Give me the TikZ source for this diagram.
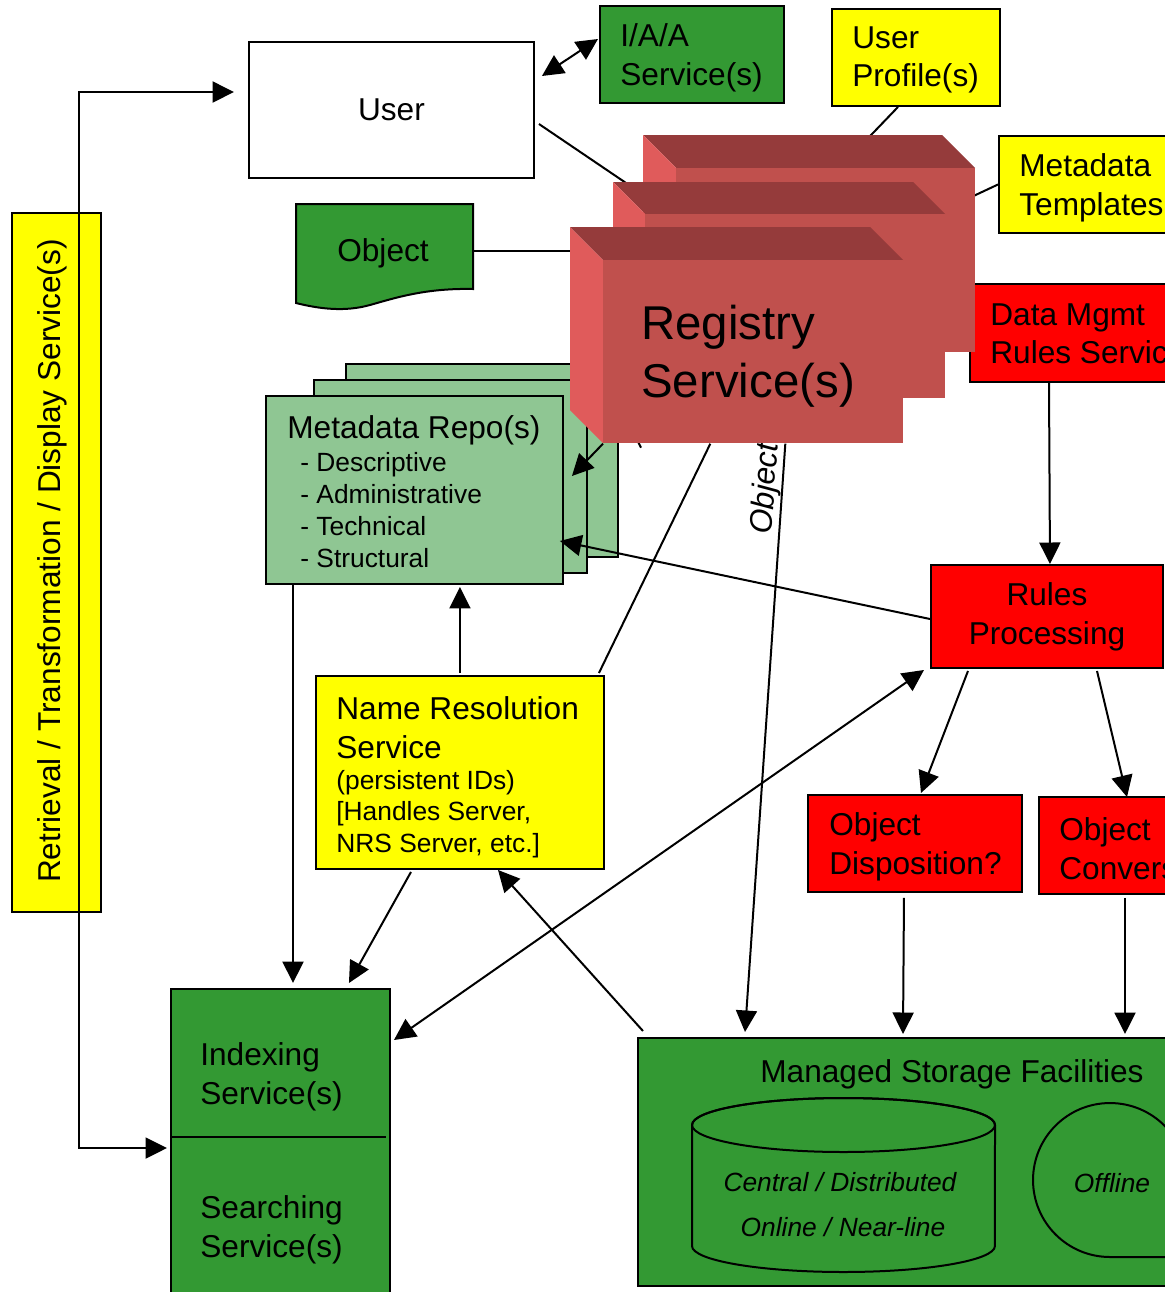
\documentclass[tikz,border=0pt]{standalone}
\usepackage{fontspec}
\setmainfont{Liberation Sans}
\usetikzlibrary{arrows.meta}
\pgfdeclarelayer{back}
\pgfsetlayers{back,main}
\definecolor{dgreen}{HTML}{339933}
\definecolor{lgreen}{HTML}{8FC693}
\definecolor{ryellow}{HTML}{FFFF00}
\definecolor{rred}{HTML}{FF0000}
\definecolor{regfront}{HTML}{C0504D}
\definecolor{regtop}{HTML}{953B3B}
\definecolor{regside}{HTML}{E05B5B}
\begin{document}
\begin{tikzpicture}[x=0.02cm,y=-0.02cm,
  >={Triangle[length=4.3mm,width=4.2mm]},
  panel/.style={draw, line width=0.4mm, rectangle, inner sep=0pt, anchor=north west},
  regface/.style={fill=regfront, rectangle, inner sep=0pt, anchor=north west},
  caption/.style={anchor=west, align=left, inner sep=0pt, font=\fontsize{18}{22}\selectfont},
  smallcap/.style={anchor=west, align=left, inner sep=0pt, font=\fontsize{15}{18.1}\selectfont},
  wire/.style={line width=0.4mm},
  wirearrow/.style={wire, ->},
  wirebi/.style={wire, <->}]
\useasboundingbox (0,0) rectangle (1165,1292);

% ---------- boxes lying underneath the registry ----------
\begin{pgfonlayer}{back}
  \node[panel, fill=lgreen, minimum width=54.4mm, minimum height=38.6mm] (mrepo3) at (345,363) {};
  \node[panel, fill=lgreen, minimum width=54.6mm, minimum height=38.6mm] (mrepo2) at (313,379) {};
  \node[panel, fill=lgreen, minimum width=59.4mm, minimum height=37.6mm] (mrepo) at (265,395) {};
  \node[caption] (mrepo-t) at (287,430) {Metadata Repo(s)};
  \node[smallcap] (mrepo-l) at (300,510) {- Descriptive\\- Administrative\\- Technical\\- Structural};
  \node[panel, fill=rred, minimum width=60mm, minimum height=19.6mm] (dmrs) at (969,283) {};
  \node[caption] (dmrs-t) at (990,337) {Data Mgmt\\Rules Service(s)};
\end{pgfonlayer}

% ---------- top row ----------
\node[panel, fill=white, minimum width=57mm, minimum height=27.2mm,
      font=\fontsize{18}{22}\selectfont] (user) at (248,41) {User};
\node[panel, fill=dgreen, minimum width=36.8mm, minimum height=19.4mm] (iaa) at (599,5) {};
\node[caption] (iaa-t) at (620,58) {I/A/A\\Service(s)};
\node[panel, fill=ryellow, minimum width=33.6mm, minimum height=19.4mm] (uprof) at (831,8) {};
\node[caption] (uprof-t) at (852,60) {User\\Profile(s)};
\node[panel, fill=ryellow, minimum width=50mm, minimum height=19.4mm] (mtempl) at (998,135) {};
\node[caption] (mtempl-t) at (1019,188) {Metadata\\Templates};

% object document
\draw[wire, fill=dgreen] (296,204) -- (473,204) -- (473,289)
  .. controls (425,288) and (395,298) .. (370,305)
  .. controls (345,312) and (320,309) .. (296,303) -- cycle;
\node[inner sep=0pt, anchor=base, font=\fontsize{18}{22}\selectfont] (object) at (383,261) {Object};
\coordinate (object-edge) at (473,251);

% ---------- registry stack ----------
\fill[regtop]  (643,135) -- (942,135) -- (975,168) -- (676,168) -- cycle;
\fill[regside] (643,135) -- (676,168) -- (676,352) -- (643,319) -- cycle;
\node[regface, minimum width=59.8mm, minimum height=36.8mm] (reg3) at (676,168) {};
\fill[regtop]  (613,182) -- (913,182) -- (945,214) -- (645,214) -- cycle;
\fill[regside] (613,182) -- (645,214) -- (645,398) -- (613,366) -- cycle;
\node[regface, minimum width=60mm, minimum height=36.8mm] (reg2) at (645,214) {};
\fill[regtop]  (570,227) -- (870,227) -- (903,260) -- (603,260) -- cycle;
\fill[regside] (570,227) -- (603,260) -- (603,443) -- (570,410) -- cycle;
\node[regface, minimum width=60mm, minimum height=36.6mm] (reg) at (603,260) {};
\node[anchor=west, align=left, inner sep=0pt, font=\fontsize{27}{33}\selectfont] (reg-t) at (641,356) {Registry\\Service(s)};

% ---------- rules ----------
\node[panel, fill=rred, minimum width=46.4mm, minimum height=20.6mm, align=center,
      font=\fontsize{18}{22}\selectfont] (rules) at (930,564) {Rules\\Processing};
\node[panel, fill=rred, minimum width=42.8mm, minimum height=19.4mm] (odisp) at (807,794) {};
\node[caption] (odisp-t) at (829,847) {Object\\Disposition?};
\node[panel, fill=rred, minimum width=50mm, minimum height=19.4mm] (oconv) at (1038,796) {};
\node[caption] (oconv-t) at (1059,849) {Object\\Conversion};

% ---------- storage ----------
\node[panel, fill=dgreen, minimum width=126mm, minimum height=49.6mm] (storage) at (637,1037) {};
\node[inner sep=0pt, anchor=base, font=\fontsize{18}{22}\selectfont] (storage-t) at (952,1082) {Managed Storage Facilities};
\draw[wire, fill=dgreen] (692,1125) -- (692,1246)
  arc[start angle=180, end angle=360, x radius=30.3mm, y radius=5.2mm]
  -- (995,1125)
  arc[start angle=0, end angle=180, x radius=30.3mm, y radius=5.4mm] -- cycle;
\draw[wire] (843.5,1125) ellipse[x radius=30.3mm, y radius=5.4mm];
\node[inner sep=0pt, anchor=base, font=\itshape\fontsize{15}{18}\selectfont] (central) at (840,1191.5) {Central / Distributed};
\node[inner sep=0pt, anchor=base, font=\itshape\fontsize{15}{18}\selectfont] (online) at (843,1236.5) {Online / Near-line};
% tape (offline) symbol
\draw[wire, fill=dgreen] (1200,1257) -- (1110,1257)
  arc[start angle=270, end angle=-30, radius=15.4mm] -- cycle;
\node[inner sep=0pt, anchor=base, font=\itshape\fontsize{15}{18}\selectfont] (offline) at (1112,1192.5) {Offline};

% ---------- name resolution ----------
\node[panel, fill=ryellow, minimum width=57.6mm, minimum height=38.6mm] (nrs) at (315,675) {};
\node[caption] (nrs-t) at (336,727.5) {Name Resolution\\Service};
\node[smallcap] (nrs-d) at (336,814) {(persistent IDs)\\{}[Handles Server,\\NRS Server, etc.]};

% ---------- indexing / searching ----------
\node[panel, fill=dgreen, minimum width=43.8mm, minimum height=64mm] (idx) at (170,988) {};
\draw[wire] ([shift={(0,149)}]idx.north west) -- ([shift={(-5,149)}]idx.north east);
\node[caption] (idx-t) at (200,1077) {Indexing\\Service(s)};
\node[caption] (srch-t) at (200,1230) {Searching\\Service(s)};

% ---------- retrieval bar ----------
\node[panel, fill=ryellow, minimum width=17.8mm, minimum height=139.8mm] (rtd) at (11,212) {};
\node[rotate=90, inner sep=0pt, font=\fontsize{18}{22}\selectfont] (rtd-t) at (52,561)
  {Retrieval / Transformation / Display Service(s)};
\coordinate (rt-top) at (79,92);
\coordinate (rt-bot) at (79,1148);

% ---------- connectors passing under the registry ----------
\begin{pgfonlayer}{back}
  \draw[wire] ([shift={(4,14)}]user.east) -- ([shift={(15,-8)}]reg2.north west);
  \draw[wire] ([shift={(-18,0)}]uprof.south) -- ([shift={(174,-11)}]reg3.north west);
  \draw[wire] (mtempl.west) -- ([shift={(-15,34)}]reg3.north east);
  \draw[wire] (object-edge) -- ([shift={(-20,-9)}]reg.north west);
  \draw[wire] ([shift={(-43,0)}]reg.south) -- ([shift={(-6,-2)}]nrs.north east);
  \draw[wire] ([shift={(32,-8)}]reg.south west) -- ([shift={(38,4)}]reg.south west);
  \draw[wirearrow] ([shift={(32,0)}]reg.south) --
    node[sloped, above, pos=0.078, inner sep=0pt, font=\itshape\fontsize{18}{22}\selectfont] (objlbl) {Object}
    ([shift={(108,-5)}]storage.north west);
\end{pgfonlayer}

% ---------- remaining connectors ----------
\draw[wirebi] ([shift={(7,-34)}]user.east) -- ([shift={(-1,-15.5)}]iaa.west);
\draw[wirearrow] (reg.south west) -- ([shift={(8,-14)}]mrepo.east);
\draw[wirearrow] ([shift={(0,2.5)}]rules.west) -- ([shift={(-4,51)}]mrepo.east);
\draw[wirearrow, shorten <=0.4mm, shorten >=0.4mm] (nrs.north) -- (nrs.north |- mrepo.south);
\draw[wirearrow] ([shift={(80,0)}]dmrs.south west) -- ([shift={(3,0)}]rules.north);
\draw[wirearrow] ([shift={(38,2)}]rules.south west) -- ([shift={(6,-1)}]odisp.north);
\draw[wirearrow] ([shift={(167,2)}]rules.south west) -- ([shift={(89,1)}]oconv.north west);
\draw[wirearrow] ([shift={(-11,5)}]odisp.south) -- ([shift={(266,-3)}]storage.north west);
\draw[wirearrow] ([shift={(87,3)}]oconv.south west) -- ([shift={(488,-3)}]storage.north west);
\draw[wirearrow] ([shift={(6,-6)}]storage.north west) -- ([shift={(38,0)}]nrs.south);
\draw[wirebi] ([shift={(-6,1)}]rules.south west) -- ([shift={(3,52)}]idx.north east);
\draw[wirearrow] ([shift={(-49,2)}]nrs.south) -- ([shift={(-42,-5)}]idx.north east);
\draw[wirearrow] ([shift={(28,0)}]mrepo.south west) -- ([shift={(123,-5)}]idx.north west);
\draw[wirebi, shorten <=0.6mm, shorten >=2.8mm] (rt-bot -| idx.west) -- (rt-bot) -- (rt-top) -- (rt-top -| user.west);
\end{tikzpicture}
\end{document}
